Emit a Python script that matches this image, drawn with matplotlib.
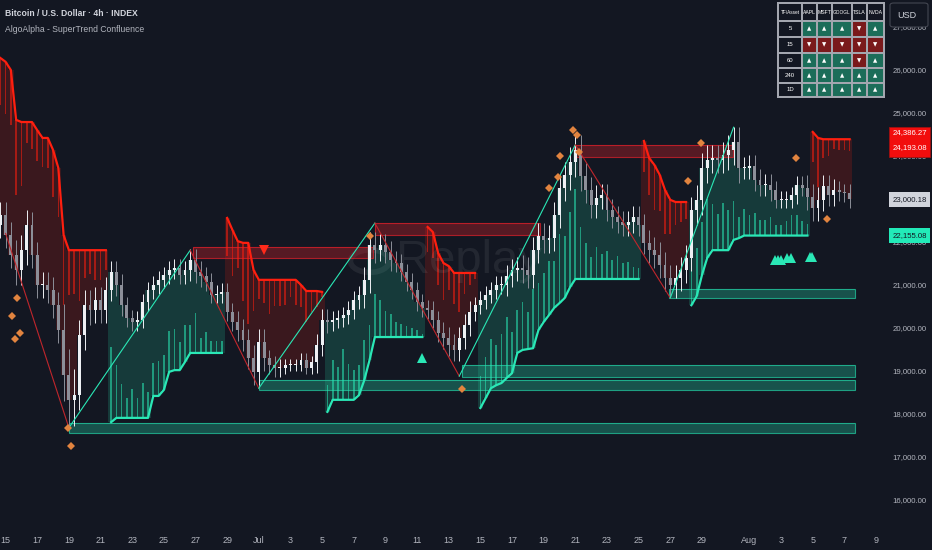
import matplotlib
matplotlib.use('Agg')
import matplotlib.pyplot as plt
import matplotlib.patches as mpatches
import numpy as np
import pandas as pd

plt.rcParams['font.family'] = ['Liberation Sans', 'DejaVu Sans']

W, H = 932, 550
BG = '#131722'
RED = '#ff1f0f'
TEAL = '#2ae8b6'
TXT = '#b2b5be'

# 8h candles starting 2022-06-14 16:00
start = '2022-06-14 16:00'
first_open = 22400
close = [22630, 22160, 21700, 21350, 21810, 22400, 21700, 21000, 21000, 20880,
         20530, 19950, 18910, 18330, 18440, 19840, 20530, 20420, 20650, 20420,
         20880, 21300, 21000, 20530, 20230, 20140, 20190, 20600, 20880, 21000,
         21120, 21230, 21350, 21400, 21230, 21350, 21580, 21300, 21210, 21070,
         20770, 20790, 20840, 20370, 20140, 19950, 19720, 19300, 18980, 19670,
         19300, 19140, 19070, 19070, 19140, 19140, 19140, 19260, 19070, 19210,
         19600, 20190, 20140, 20190, 20230, 20300, 20420, 20650, 20770, 21120,
         21930, 21810, 21930, 21770, 21580, 21510, 21300, 21070, 20880, 20600,
         20460, 20420, 20190, 19880, 19770, 19600, 19490, 19770, 20070, 20370,
         20530, 20650, 20770, 20880, 21000, 21000, 21210, 21350, 21400, 21350,
         21230, 21810, 22140, 22050, 22090, 22630, 23260, 23560, 23860, 24140,
         23540, 23210, 22860, 23020, 23090, 22740, 22580, 22470, 22400, 22470,
         22580, 22400, 21980, 21810, 21700, 21470, 21160, 21000, 21160, 21350,
         21630, 22740, 22980, 23720, 23910, 23950, 23910, 24020, 24140, 24330,
         23720, 23720, 23770, 23440, 23330, 23330, 23210, 22980, 22980, 22980,
         23090, 23330, 23260, 23050, 22790, 22980, 23300, 23090, 23210, 23160,
         23140, 23000.18]
# wick size per day (3 candles)
wick = [300, 350, 300, 300, 600, 350, 300, 250, 200, 200, 200, 200, 250, 200, 200, 250, 300, 200,
        150, 150, 250, 200, 200, 300, 250, 200, 200, 200, 250, 250, 200, 200, 250, 300, 300, 300,
        350, 300, 250, 250, 250, 300, 300, 300, 350, 300, 350, 250, 250, 200, 200, 300, 250, 200]

supertrend = [26280, 26190, 26000, 24840, 24790, 24790, 24790, 24600, 24420, 24420,
              24140, 23720, 22160, 21810, 21810, 21810, 21810, 21810, 21810, 21810, 21810,
              17810, 17910, 17910, 17910, 17910, 17910, 17910, 17910, 18420, 18420,
              18560, 18980, 19020, 19020, 19210, 19420, 19420, 19420, 19420, 19420, 19420, 19420,
              22560, 22280, 22020, 21980, 21980, 21350, 21120, 21120, 21120, 21120,
              21120, 21120, 21120, 21120, 21000, 20860, 20860, 20860, 20840,
              18050, 18330, 18330, 18330, 18330, 18330, 18440, 18790, 19260, 19790,
              19790, 19790, 19790, 19790, 19790, 19790, 19790, 19790, 19790,
              22350, 22230, 21740, 21510, 21440, 21280, 21280, 21280, 21280, 21280,
              18140, 18370, 18600, 18670, 18720, 18840, 18950, 19420, 19490, 19510,
              19530, 19950, 20140, 20300, 20470, 20580, 20700, 20950, 21140, 21140,
              21140, 21140, 21140, 21140, 21140, 21140, 21140, 21140, 21140, 21140, 21140,
              24350, 23950, 23790, 23560, 23210, 22980, 22930, 22930, 22930,
              20530, 20740, 21230, 21630, 21810, 21810, 21810, 21810, 22050, 22090,
              22150, 22150, 22150, 22150, 22150, 22150, 22150, 22150, 22150, 22150, 22150, 22150, 22150,
              24560, 24420, 24390, 24390, 24390, 24390, 24390, 24390]
# confluence spike strength (tenths of the distance from line to price)
spike = ("333552222233533654655" "5432323233344343523222" "4536743343332334332"
         "3546433435433222221" "3345346432" "3454564565656756567543434343322"
         "345454333" "65565454434343343345433" "48432222")

swing_k = [1, 13, 36, 49, 71, 87, 109, 127, 139]
swing_p = [22200, 17680, 21810, 18600, 22440, 18880, 24260, 20700, 24670]

zone_k0 = [13, 49, 87.5, 126.7, 36.5, 71, 108.7]
zone_k1 = [162, 162, 162, 162, 70.7, 102.3, 138.8]
zone_lo = [17560, 18560, 18860, 20700, 21630, 22160, 23980]
zone_hi = [17790, 18790, 19140, 20910, 21880, 22440, 24260]
zone_bull = [1, 1, 1, 1, 0, 0, 0]

diamond_k = [3.2, 2.3, 3.8, 2.8, 12.9, 13.4, 70, 87.5, 108.5, 109.3, 106, 105.7, 104, 109.7,
             132.8, 130.3, 150.8, 156.8]
diamond_p = [20700, 20280, 19880, 19740, 17670, 17260, 22140, 18580, 24600, 24490, 24000,
             23510, 23260, 24090, 24300, 23420, 23950, 22540]
up_k = [80, 146.8, 147.4, 148.0, 149.2, 149.8, 153.4, 153.9]
up_p = [19300, 21580, 21580, 21580, 21620, 21620, 21650, 21650]
down_k = [50]
down_p = [21810]

tick_dates = ['06-15', '06-17', '06-19', '06-21', '06-23', '06-25', '06-27', '06-29', '07-01',
              '07-03', '07-05', '07-07', '07-09', '07-11', '07-13', '07-15', '07-17', '07-19',
              '07-21', '07-23', '07-25', '07-27', '07-29', '08-01', '08-03', '08-05', '08-07', '08-09']
tick_labels = ['15', '17', '19', '21', '23', '25', '27', '29', 'Jul', '3', '5', '7', '9', '11',
               '13', '15', '17', '19', '21', '23', '25', '27', '29', 'Aug', '3', '5', '7', '9']
price_ticks = [16000, 17000, 18000, 19000, 20000, 21000, 22000, 23000, 24000, 25000, 26000, 27000]

assets = ['TF\\Asset', 'AAPL', 'MSFT', 'GOOGL', 'TSLA', 'NVDA']
tfs = ['5', '15', '60', '240', '1D']
signals = [[1, 1, 1, 0, 1], [0, 0, 0, 0, 0], [1, 1, 1, 0, 1], [1, 1, 1, 1, 1], [1, 1, 1, 1, 1]]

# ---------------------------------------------------------------
c = np.array(close, dtype=float)
o = np.array([first_open] + close[:-1], dtype=float)
st = np.array(supertrend, dtype=float)
w = np.array([wick[i // 3] for i in range(len(c))])
hi = np.maximum(o, c) + w
lo = np.minimum(o, c) - w
k = np.arange(len(c))
bull = st < c
sp = np.array([int(s) for s in spike]) / 10.0

fig = plt.figure(figsize=(W / 100, H / 100), dpi=100)
fig.patch.set_facecolor(BG)
ax = fig.add_axes([0, 38 / H, 885 / W, 512 / H])
ax.set_facecolor(BG)
ax.set_xlim(-0.06, 167.7)
ax.set_ylim(15721, 27628)

# watermark
ax.text(0.53, 0.49, 'Replay', transform=ax.transAxes, fontsize=34, color='white', alpha=0.07,
        ha='center', va='center')
ax.add_patch(mpatches.Circle((0.418, 0.49), 0.022, transform=ax.transAxes, fill=False,
                             ec='white', alpha=0.07, lw=4))

# trend fill and confluence spikes
for bl, col in [(True, TEAL), (False, RED)]:
    m = bull == bl
    ax.bar(k[m], (c - st)[m], bottom=st[m], width=1.0, color=col, alpha=0.17, lw=0, zorder=1)
    ax.bar(k[m], ((c - st) * sp)[m], bottom=st[m], width=0.32, color=col, alpha=0.55, lw=0, zorder=2)

# zones
for a, b, l, h, bl in zip(zone_k0, zone_k1, zone_lo, zone_hi, zone_bull):
    col = '#22c39b' if bl else '#d4202a'
    ax.add_patch(mpatches.Rectangle((a, l), b - a, h - l, fc=col, alpha=0.35, lw=0, zorder=1.5))
    ax.add_patch(mpatches.Rectangle((a, l), b - a, h - l, fill=False, ec=col, lw=0.8, alpha=0.8, zorder=1.6))

# candles
up = c >= o
for m, col in [(up, '#eef0f4'), (~up, '#8c8f99')]:
    ax.vlines(k[m], lo[m], hi[m], color=col, lw=0.7, zorder=3)
    ax.bar(k[m], np.maximum(np.abs(c - o)[m], 25), bottom=np.minimum(o, c)[m], width=0.55,
           color=col, lw=0, zorder=3)

# supertrend line, split at flips
start_i = 0
for i in range(1, len(k) + 1):
    if i == len(k) or bull[i] != bull[start_i]:
        ax.plot(k[start_i:i], st[start_i:i], color=TEAL if bull[start_i] else RED, lw=1.6,
                zorder=4, solid_joinstyle='round')
        start_i = i

# zigzag
for j in range(len(swing_k) - 1):
    col = TEAL if swing_p[j + 1] > swing_p[j] else '#c0262c'
    ax.plot(swing_k[j:j + 2], swing_p[j:j + 2], color=col, lw=0.8, zorder=3.5)

ax.plot(diamond_k, diamond_p, 'D', color='#e2843f', ms=4.2, mew=0, zorder=5)
ax.plot(up_k, up_p, '^', color=TEAL, ms=6.5, mew=0, zorder=5)
ax.plot(down_k, down_p, 'v', color='#ff2a1a', ms=6.5, mew=0, zorder=5)

# axes
base = pd.Timestamp(start)
tk = [(pd.Timestamp('2022-' + d) - base) / pd.Timedelta('8h') for d in tick_dates]
ax.set_xticks(tk)
ax.set_xticklabels(tick_labels)
ax.yaxis.tick_right()
ax.set_yticks(price_ticks)
ax.set_yticklabels([f'{v:,.2f}' for v in price_ticks])
ax.tick_params(axis='x', length=0, pad=17, labelsize=6.5, labelcolor=TXT)
ax.tick_params(axis='y', length=0, pad=5.5, labelsize=5.6, labelcolor=TXT)
for s in ax.spines.values():
    s.set_visible(False)


def fbox(x0, y0, x1, y1, **kw):
    fig.add_artist(mpatches.Rectangle((x0 / W, 1 - y1 / H), (x1 - x0) / W, (y1 - y0) / H,
                                      transform=fig.transFigure, **kw))


def ftext(x, y, s, **kw):
    fig.text(x / W, 1 - y / H, s, va='center', **kw)


# price tags
fbox(889, 127, 930, 157, fc='#f20d0d', ec='#a01010', lw=0.6)
ftext(909.5, 133, '24,386.27', ha='center', color='white', fontsize=5.6)
ftext(909.5, 148, '24,193.08', ha='center', color='white', fontsize=5.6)
fbox(889, 192, 930, 207, fc='#d1d4dc', lw=0)
ftext(909.5, 199.5, '23,000.18', ha='center', color=BG, fontsize=5.6)
fbox(889, 228, 930, 243, fc='#22eab8', lw=0)
ftext(909.5, 235.5, '22,155.08', ha='center', color=BG, fontsize=5.6)

# USD box
fig.add_artist(mpatches.FancyBboxPatch((890 / W, 1 - 27 / H), 38 / W, 24 / H,
                                       boxstyle='round,pad=0,rounding_size=0.004',
                                       transform=fig.transFigure, fc=BG, ec='#434651', lw=0.8, zorder=5))
ftext(897, 15, 'USD', color='#d1d4dc', fontsize=6.5, zorder=6)

# titles
ftext(5, 14, 'Bitcoin / U.S. Dollar · 4h · INDEX', color='#d1d4dc', fontsize=6.2, weight='bold')
ftext(5, 29, 'AlgoAlpha - SuperTrend Confluence', color=TXT, fontsize=6.2)

# confluence table
col_edges = [778, 802, 817, 832, 852, 867, 884]
row_edges = [3, 21, 37, 53, 68, 83, 97]
fbox(col_edges[0] - 1, row_edges[0] - 1, col_edges[-1] + 1, row_edges[-1] + 1, fc='#a3a6af', lw=0)
for r in range(len(tfs) + 1):
    for q in range(len(assets)):
        x0, x1 = col_edges[q] + 0.6, col_edges[q + 1] - 0.6
        y0, y1 = row_edges[r] + 0.6, row_edges[r + 1] - 0.6
        cx, cy = (x0 + x1) / 2, (y0 + y1) / 2
        if r == 0:
            fbox(x0, y0, x1, y1, fc=BG, lw=0)
            ftext(cx, cy, assets[q], ha='center', color='white',
                  fontsize=3.4 if q in (0, 3) else 3.7)
        elif q == 0:
            fbox(x0, y0, x1, y1, fc=BG, lw=0)
            ftext(cx, cy, tfs[r - 1], ha='center', color='white', fontsize=4.3)
        else:
            s = signals[r - 1][q - 1]
            fbox(x0, y0, x1, y1, fc='#1c6d59' if s else '#7a1a1c', lw=0)
            ftext(cx, cy, '▲' if s else '▼', ha='center', color='white', fontsize=4.0,
                  family=['DejaVu Sans'])

fig.savefig('out.png', dpi=100, facecolor=BG)
